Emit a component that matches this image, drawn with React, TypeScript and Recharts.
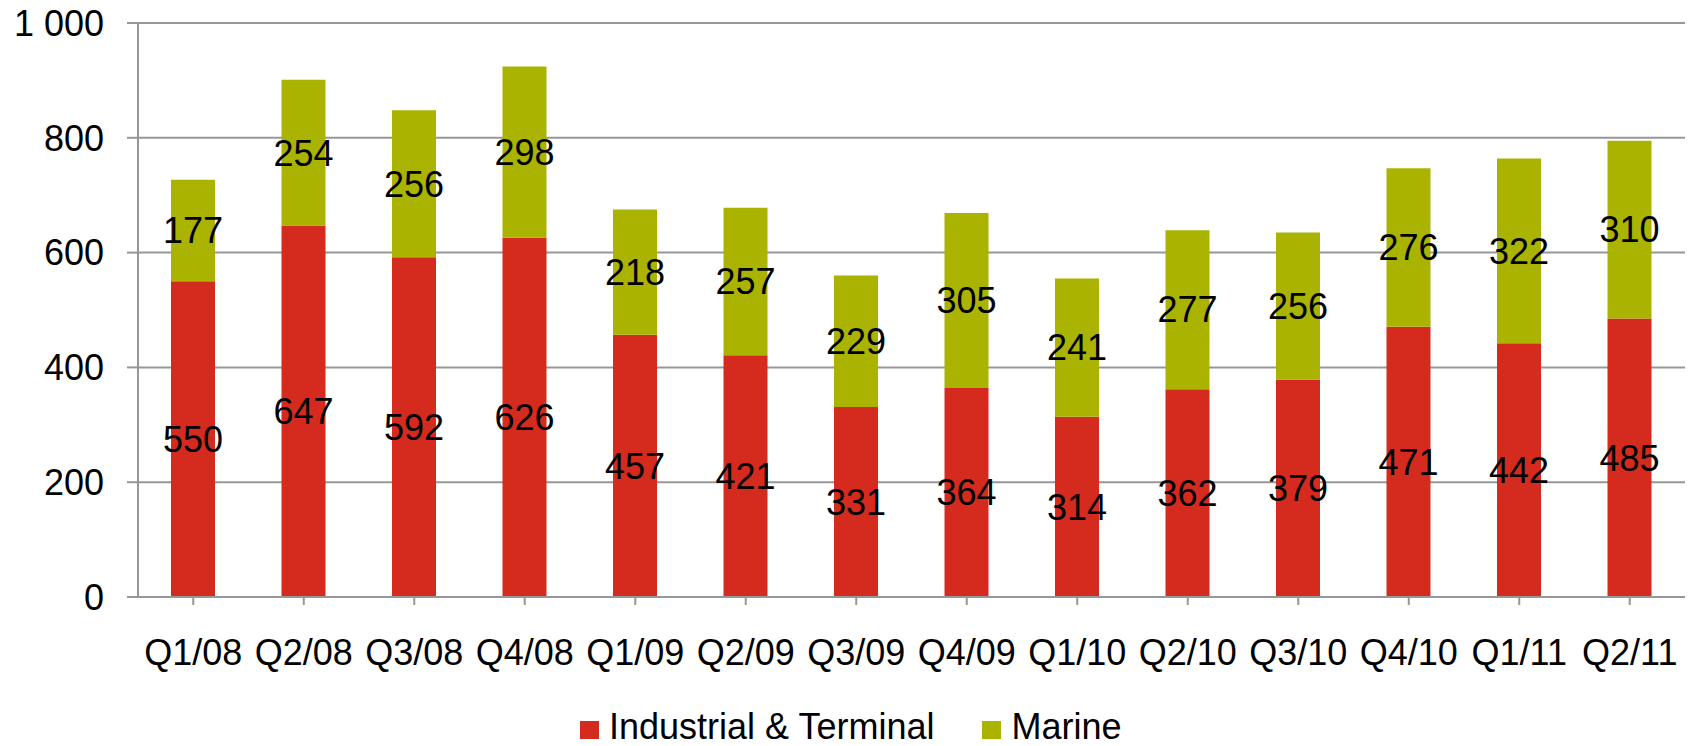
import React from "react";
import { BarChart, Bar, XAxis, YAxis, CartesianGrid, Legend, LabelList } from "recharts";

const categories = ["Q1/08", "Q2/08", "Q3/08", "Q4/08", "Q1/09", "Q2/09", "Q3/09", "Q4/09", "Q1/10", "Q2/10", "Q3/10", "Q4/10", "Q1/11", "Q2/11"];
const industrial = [550, 647, 592, 626, 457, 421, 331, 364, 314, 362, 379, 471, 442, 485];
const marine = [177, 254, 256, 298, 218, 257, 229, 305, 241, 277, 256, 276, 322, 310];
const yTicks = [0, 200, 400, 600, 800, 1000];
const seriesNames = ["Industrial & Terminal", "Marine"];
const seriesColors = ["#D52B1E", "#AAB400"];

const data = categories.map((c, i) => ({ cat: c, industrial: industrial[i], marine: marine[i] }));

const FONT = "'Liberation Sans', Arial, sans-serif";
const GRID = "#979797";

const fmt = (v: number) => (v >= 1000 ? String(v).replace(/\B(?=(\d{3})+(?!\d))/g, " ") : String(v));

const LegendContent = () => (
  <div style={{ display: "flex", alignItems: "flex-start", marginLeft: 580, fontFamily: FONT, fontSize: 36, lineHeight: "36px", color: "#000" }}>
    {seriesNames.map((n, i) => (
      <div key={n} style={{ display: "flex", alignItems: "flex-start", marginRight: i === 0 ? 48 : 0 }}>
        <div style={{ width: 19, height: 18, marginTop: 12, background: seriesColors[i], marginRight: 10 }} />
        <span style={{ whiteSpace: "nowrap" }}>{n}</span>
      </div>
    ))}
  </div>
);

export default function App() {
  return (
    <div style={{ position: "absolute", left: 0, top: 0, width: 1691, height: 746, background: "#fff" }}>
      <BarChart width={1691} height={746} data={data} margin={{ top: 23, right: 6, left: 0, bottom: 0 }}>
        <CartesianGrid vertical={false} stroke={GRID} strokeWidth={2} />
        <XAxis
          dataKey="cat"
          height={149}
          tickSize={8}
          tickMargin={34}
          stroke={GRID}
          strokeWidth={2}
          tick={{ fill: "#000", fontSize: 36, fontFamily: FONT }}
          interval={0}
        />
        <YAxis
          width={138}
          domain={[0, 1000]}
          ticks={yTicks}
          tickFormatter={fmt}
          tickSize={11}
          tickMargin={23}
          stroke={GRID}
          strokeWidth={2}
          tick={{ fill: "#000", fontSize: 36, fontFamily: FONT }}
          interval={0}
        />
        <Legend
          layout="horizontal"
          verticalAlign="middle"
          align="center"
          wrapperStyle={{ top: 709, left: 0, width: 1691, height: 37 }}
          content={<LegendContent />}
        />
        <Bar dataKey="industrial" name={seriesNames[0]} stackId="a" fill={seriesColors[0]} barSize={44} isAnimationActive={false}>
          <LabelList dataKey="industrial" position="center" fill="#000" fontSize={36} fontFamily={FONT} />
        </Bar>
        <Bar dataKey="marine" name={seriesNames[1]} stackId="a" fill={seriesColors[1]} barSize={44} isAnimationActive={false}>
          <LabelList dataKey="marine" position="center" fill="#000" fontSize={36} fontFamily={FONT} />
        </Bar>
      </BarChart>
    </div>
  );
}
